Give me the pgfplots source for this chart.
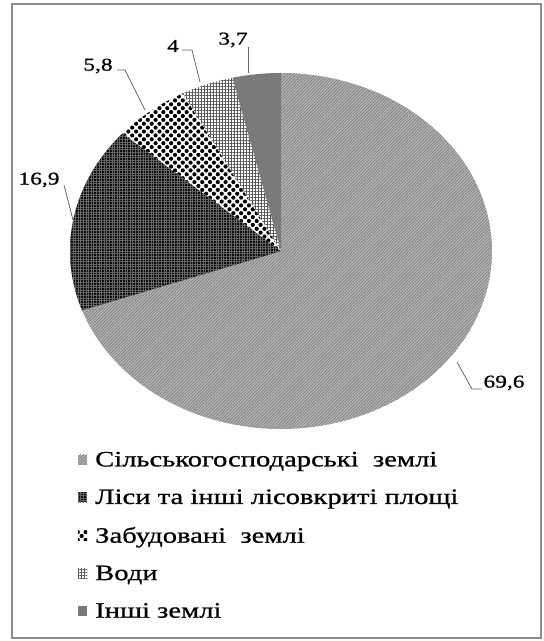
\documentclass[border=0pt]{standalone}
\usepackage{fontspec}
\setmainfont{Liberation Serif}[FakeStretch=1.3,FakeBold=0.8]
\usepackage{pgfplots}
\pgfplotsset{compat=1.18}
\usetikzlibrary{patterns.meta}
% slice values (percent)
\def\vA{69.6}\def\vB{16.9}\def\vC{5.8}\def\vD{4}\def\vE{3.7}
\pgfmathsetmacro{\aA}{90}
\pgfmathsetmacro{\aB}{\aA-3.6*\vA}
\pgfmathsetmacro{\aC}{\aB-3.6*\vB}
\pgfmathsetmacro{\aD}{\aC-3.6*\vC}
\pgfmathsetmacro{\aE}{\aD-3.6*\vD}
\pgfmathsetmacro{\aF}{\aE-3.6*\vE}
\tikzset{
 agri/.style={draw=none,preaction={fill=black!30},pattern={Lines[angle=45,distance=2.2bp,line width=0.5bp]},pattern color=black!55},
 forest/.style={draw=none,preaction={fill=black!95},pattern={Hatch[angle=0,distance=2.6bp,line width=0.35bp]},pattern color=black!60},
 built/.style={draw=none,preaction={fill=white},pattern={Dots[distance=5.5bp,radius=2.1bp,angle=45]},pattern color=black},
 water/.style={draw=none,preaction={fill=white},pattern={Hatch[angle=0,distance=3bp,line width=0.9bp]},pattern color=black!65},
 other/.style={draw=none,fill=black!52},
}
\begin{document}
\begin{tikzpicture}[x=1bp,y=1bp]
\useasboundingbox (0,0) rectangle (544,641);
\draw[black!45,line width=1.3bp] (12,637) rectangle (541,3);
\begin{axis}[
  scale only axis, width=422bp, height=356bp,
  at={(281bp,390bp)}, anchor=center,
  xmin=-1,xmax=1,ymin=-1,ymax=1, hide axis,
  legend cell align=left,
  legend image code/.code={\fill[#1] (0bp,-5bp) rectangle (9bp,5bp); \path (15bp,0bp);},
  legend style={at={(axis description cs:0.019,-0.058)},anchor=north west,
    draw=none,fill=none,inner sep=0pt,row sep=17.5bp,
    font=\fontsize{22bp}{26bp}\selectfont,
    nodes={inner sep=2bp}},
]
\addplot[agri,domain=\aB:\aA,samples=150] ({cos(x)},{sin(x)}) -- (axis cs:0,0) -- cycle;
\addlegendentry{Сільськогосподарські\ \ землі}
\addplot[forest,domain=\aC:\aB,samples=60] ({cos(x)},{sin(x)}) -- (axis cs:0,0) -- cycle;
\addlegendentry{Ліси та інші лісовкриті площі}
\addplot[built,domain=\aD:\aC,samples=30] ({cos(x)},{sin(x)}) -- (axis cs:0,0) -- cycle;
\addlegendentry{Забудовані\ \ землі}
\addplot[water,domain=\aE:\aD,samples=30] ({cos(x)},{sin(x)}) -- (axis cs:0,0) -- cycle;
\addlegendentry{Води}
\addplot[other,domain=\aF:\aE,samples=30] ({cos(x)},{sin(x)}) -- (axis cs:0,0) -- cycle;
\addlegendentry{Інші землі}
\end{axis}
\begin{scope}[black!60,line width=0.8bp]
\draw (248,594) -- (248,568);
\draw (182,591) -- (192,591) -- (200,559);
\draw (117,571) -- (125,571) -- (145,531);
\draw (64,456) -- (73,421);
\draw (457,279) -- (472,252) -- (482,252);
\end{scope}
\begin{scope}[every node/.style={font=\fontsize{18bp}{22bp}\selectfont,inner sep=0pt}]
\node at (233,601) {3,7};
\node at (173,595) {4};
\node at (98,575) {5,8};
\node at (39,461) {16,9};
\node at (504,258) {69,6};
\end{scope}
\end{tikzpicture}
\end{document}
